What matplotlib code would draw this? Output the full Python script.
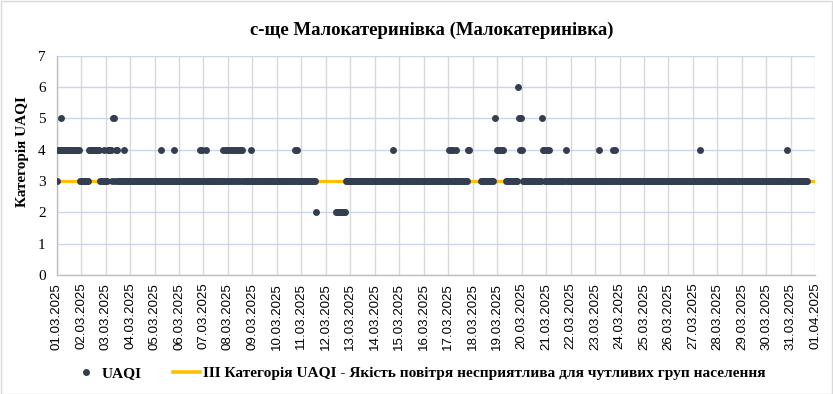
import numpy as np
import pandas as pd
import matplotlib
matplotlib.use("Agg")
import matplotlib.pyplot as plt
import matplotlib.dates as mdates
from matplotlib.lines import Line2D
from matplotlib.patches import Rectangle

# hourly series for March 2025, hour index counted from 01.03.2025 00:00
N_HOURS = 744
BASE_CATEGORY = 3   # most hours sit in category 3
THRESHOLD = 3       # III category line

hours_cat2 = [254, 274, 275, 276, 277, 278, 279, 280, 281, 282, 283]
hours_cat4 = [1, 2, 3, 5, 6, 7, 8, 9, 10, 11, 12, 13, 14, 15, 16, 17, 18, 19, 20, 21, 22,
              32, 33, 34, 35, 36, 37, 38, 39, 40, 41, 42, 46, 50, 51, 52, 53, 58, 59,
              66, 102, 115, 141, 143, 146,
              163, 165, 167, 169, 171, 173, 175, 177, 179, 181, 182, 191,
              234, 236, 330, 385, 387, 389, 392, 403, 404,
              432, 433, 434, 435, 436, 437, 438, 454, 456,
              477, 478, 481, 483, 499, 532, 546, 548, 631, 716]
hours_cat5 = [4, 55, 56, 430, 453, 455, 476]
hours_cat6 = [452]
# hours with no measurement
hours_missing = [255, 256, 257, 258, 259, 260, 261, 262, 263, 264, 265, 266, 267, 268,
                 269, 270, 271, 272, 273,
                 405, 406, 407, 408, 409, 410, 411, 412, 413, 414, 415,
                 429, 431, 439, 440,
                 737, 738, 739, 740, 741, 742, 743]

times = pd.date_range("2025-03-01 00:00", periods=N_HOURS, freq="h")
uaqi = pd.Series(float(BASE_CATEGORY), index=times)
uaqi.iloc[hours_cat2] = 2
uaqi.iloc[hours_cat4] = 4
uaqi.iloc[hours_cat5] = 5
uaqi.iloc[hours_cat6] = 6
uaqi.iloc[hours_missing] = np.nan

title = "с-ще Малокатеринівка (Малокатеринівка)"
ylabel = "Категорія UAQI"
label_points = "UAQI"
label_line = "ІІІ Категорія UAQI - Якість повітря несприятлива для чутливих груп населення"

dot_color = "#333f50"
line_color = "#ffc000"
serif = ["Liberation Serif", "DejaVu Serif"]
sans = ["Liberation Sans", "DejaVu Sans"]

fig = plt.figure(figsize=(8.33, 3.94), dpi=100)
ax = fig.add_axes([0.068, 0.302, 0.9108, 0.5566])

ax.plot(times, [THRESHOLD] * N_HOURS, color=line_color, lw=2.3, zorder=2)
ax.plot(uaqi.index, uaqi.values, "o", color=dot_color, ms=5, mew=0, zorder=3)

ax.set_ylim(0, 7)
ax.set_yticks(range(0, 8))
ax.set_xlim(pd.Timestamp("2025-03-01"), pd.Timestamp("2025-04-01"))
ax.xaxis.set_major_locator(mdates.DayLocator())
ax.xaxis.set_major_formatter(mdates.DateFormatter("%d.%m.%Y"))

ax.grid(axis="y", color="#c9d6ec", lw=1)
ax.grid(axis="x", color="#d9d9d9", lw=1)
ax.set_axisbelow(True)
for side in ["top", "right"]:
    ax.spines[side].set_visible(False)
for side in ["left", "bottom"]:
    ax.spines[side].set_color("#bfbfbf")
    ax.spines[side].set_linewidth(1)

ax.tick_params(length=0)
ax.tick_params(axis="x", pad=5.5)
ax.tick_params(axis="y", pad=8)
for lab in ax.get_xticklabels():
    lab.set_rotation(90)
    lab.set_fontsize(9.6)
    lab.set_family(sans)
    lab.set_va("top")
for lab in ax.get_yticklabels():
    lab.set_fontsize(11)
    lab.set_family(serif)

fig.text(0.518, 0.924, title, ha="center", va="center", fontsize=13.5,
         fontweight="bold", family=serif)
fig.text(0.027, 0.615, ylabel, ha="center", va="center", rotation=90,
         fontsize=11, fontweight="bold", family=serif)

handles = [Line2D([], [], ls="none", marker="o", ms=5, mew=0, color=dot_color),
           Line2D([], [], color=line_color, lw=2.6)]
leg = fig.legend(handles, [label_points, label_line], loc="center", ncol=2,
                 bbox_to_anchor=(0.5025, 0.053), frameon=False, handlelength=1.8,
                 handletextpad=0.15, columnspacing=2.0,
                 prop={"family": serif, "weight": "bold", "size": 11.1})

fig.patches.append(Rectangle((0.001, 0.001), 0.998, 0.997, transform=fig.transFigure,
                             fill=False, edgecolor="#d9d9d9", lw=1))

fig.savefig("out.png", dpi=100, facecolor="white")
